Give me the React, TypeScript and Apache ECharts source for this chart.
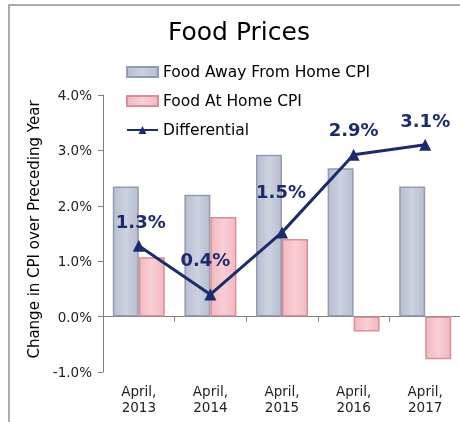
import React, { useEffect, useRef } from "react";
import * as echarts from "echarts";

const categories = ["April,\n2013", "April,\n2014", "April,\n2015", "April,\n2016", "April,\n2017"];
const awayFromHome = [2.35, 2.2, 2.92, 2.68, 2.35];
const atHome = [1.07, 1.8, 1.4, -0.27, -0.77];
const differential = [1.28, 0.4, 1.52, 2.92, 3.1];
const labelOffsets = [[2, -4], [-5, -15], [-1, -21], [0, -5], [0, -4]];

const FONT = "DejaVu Sans";
const NAVY = "#1c2b6b";

const blueFill = new echarts.graphic.LinearGradient(0, 0, 1, 0, [
  { offset: 0, color: "#b7bed0" },
  { offset: 0.5, color: "#cdd2e0" },
  { offset: 1, color: "#b7bed0" },
]);
const pinkFill = new echarts.graphic.LinearGradient(0, 0, 1, 0, [
  { offset: 0, color: "#f2b8c0" },
  { offset: 0.5, color: "#f9cfd5" },
  { offset: 1, color: "#f2b8c0" },
]);

export default function App() {
  const ref = useRef<HTMLDivElement>(null);
  useEffect(() => {
    const chart = echarts.init(ref.current!, null, { renderer: "svg" });
    chart.setOption({
      animation: false,
      textStyle: { fontFamily: FONT },
      title: {
        text: "Food Prices",
        left: 163,
        top: 14,
        textStyle: { fontSize: 25, fontWeight: "normal", color: "#000", fontFamily: FONT },
      },
      graphic: [
        {
          type: "rect",
          shape: { x: 9, y: 5, width: 520, height: 520 },
          style: { fill: "none", stroke: "#8f8f8f", lineWidth: 1.5 },
          silent: true,
        },
      ],
      legend: {
        orient: "vertical",
        left: 121,
        top: 59,
        itemGap: 13,
        itemWidth: 31,
        itemHeight: 10,
        textStyle: { fontSize: 15.5, color: "#000", fontFamily: FONT },
        data: [
          { name: "Food Away From Home CPI", icon: "rect" },
          { name: "Food At Home CPI", icon: "rect" },
          { name: "Differential" },
        ],
      },
      grid: { left: 103, right: -1, top: 95, bottom: 50, outerBoundsMode: "none", containLabel: false },
      xAxis: {
        type: "category",
        data: categories,
        axisLine: { onZero: true, lineStyle: { color: "#808080", width: 1 } },
        axisTick: { show: true, length: 5, lineStyle: { color: "#808080" } },
        axisLabel: { margin: 11, fontSize: 13.5, lineHeight: 16, color: "#222", fontFamily: FONT },
      },
      yAxis: {
        type: "value",
        min: -1,
        max: 4,
        interval: 1,
        name: "Change in CPI over Preceding Year",
        nameLocation: "middle",
        nameGap: 62,
        nameTextStyle: { fontSize: 15, color: "#000", fontFamily: FONT, padding: [0, 0, 0, 8] },
        axisLine: { show: true, lineStyle: { color: "#808080" } },
        axisTick: { show: true, length: 5, lineStyle: { color: "#808080" } },
        splitLine: { show: false },
        axisLabel: {
          fontSize: 13.5,
          color: "#222",
          margin: 11,
          fontFamily: FONT,
          formatter: (v: number) => v.toFixed(1) + "%",
        },
      },
      series: [
        {
          name: "Food Away From Home CPI",
          type: "bar",
          data: awayFromHome,
          barWidth: 26,
          barGap: "0%",
          itemStyle: { color: blueFill, borderColor: "#949bb0", borderWidth: 1.5 },
        },
        {
          name: "Food At Home CPI",
          type: "bar",
          data: atHome,
          barWidth: 26,
          barGap: "0%",
          itemStyle: { color: pinkFill, borderColor: "#d98f98", borderWidth: 1.5 },
        },
        {
          name: "Differential",
          type: "line",
          z: 5,
          data: differential.map((v, i) => ({
            value: v,
            label: { offset: labelOffsets[i] },
          })),
          symbol: "triangle",
          symbolSize: 12,
          lineStyle: { color: NAVY, width: 3 },
          itemStyle: { color: NAVY },
          label: {
            show: true,
            position: "top",
            fontSize: 18,
            fontWeight: "bold",
            color: NAVY,
            fontFamily: FONT,
            formatter: (p: any) => p.value.toFixed(1) + "%",
          },
        },
      ],
    });
    return () => chart.dispose();
  }, []);
  return <div ref={ref} style={{ position: "fixed", left: 0, top: 0, width: 460, height: 422 }} />;
}
